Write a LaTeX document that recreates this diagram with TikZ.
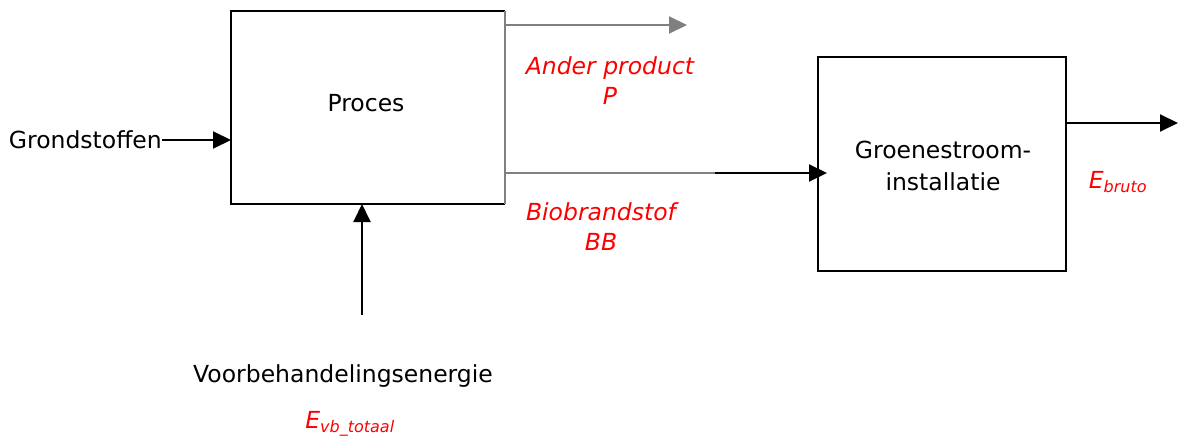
\documentclass[tikz,border=0pt]{standalone}
\usepackage{fontspec}
\setmainfont{DejaVu Sans}
\usetikzlibrary{arrows.meta}
\definecolor{lblred}{RGB}{255,0,0}
\definecolor{flowgray}{RGB}{128,128,128}
\begin{document}
\begin{tikzpicture}[x=1pt,y=-1pt,
  box/.style={draw=black,line width=2pt},
  txt/.style={font=\fontsize{23.5}{32}\selectfont,inner sep=0pt},
  lbl/.style={font=\fontsize{23.5}{30}\selectfont\itshape,text=lblred,inner sep=0pt},
  flow/.style={line width=2pt,-{Triangle[length=18pt,width=17pt]}},
  gflow/.style={flow,draw=flowgray,-{Triangle[length=18pt,width=17pt,fill=flowgray]}}]
\useasboundingbox (0,0) rectangle (1178,439);
% boxes
\draw[line width=2pt] (505,11) -- (231,11) -- (231,204) -- (505,204);
\draw[line width=2pt,draw=flowgray] (505,11) -- (505,204);
\node[txt] (proces) at (366,103) {Proces};
\node[box,minimum width=248pt,minimum height=214pt,inner sep=0pt] (groen) at (942,164) {};
\node[txt,align=center] (groentxt) at (943,166) {Groenestroom-\\installatie};
% inputs
\node[txt,anchor=east] (grond) at (162,140) {Grondstoffen};
\coordinate (grondin) at (231,140);
\draw[flow] (grond.east) -- (grondin);
\node[txt] (voor) at (343,376) {Voorbehandelingsenergie};
\node[lbl] (evb) at (350,424) {E\textsubscript{\fontsize{16}{18}\selectfont vb\_totaal}};
\coordinate (vstart) at (362,315);
\coordinate (vend) at (362,204);
\draw[flow] (vstart) -- (vend);
% outputs
\coordinate (astart) at (505,25);
\coordinate (aend) at (687,25);
\draw[gflow] (astart) -- (aend);
\node[lbl,align=center] (ander) at (610,81) {Ander product\\P};
\coordinate (bstart) at (505,173);
\coordinate (bmid) at (715,173);
\coordinate (bend) at (827,173);
\draw[line width=2pt,draw=flowgray] (bstart) -- (bmid);
\draw[flow] (bmid) -- (bend);
\node[lbl,align=center] (bio) at (601,227) {Biobrandstof\\BB};
\coordinate (estart) at (1066,123);
\coordinate (eend) at (1178,123);
\draw[flow] (estart) -- (eend);
\node[lbl] (ebruto) at (1118,182) {E\textsubscript{\fontsize{16}{18}\selectfont bruto}};
\end{tikzpicture}
\end{document}
